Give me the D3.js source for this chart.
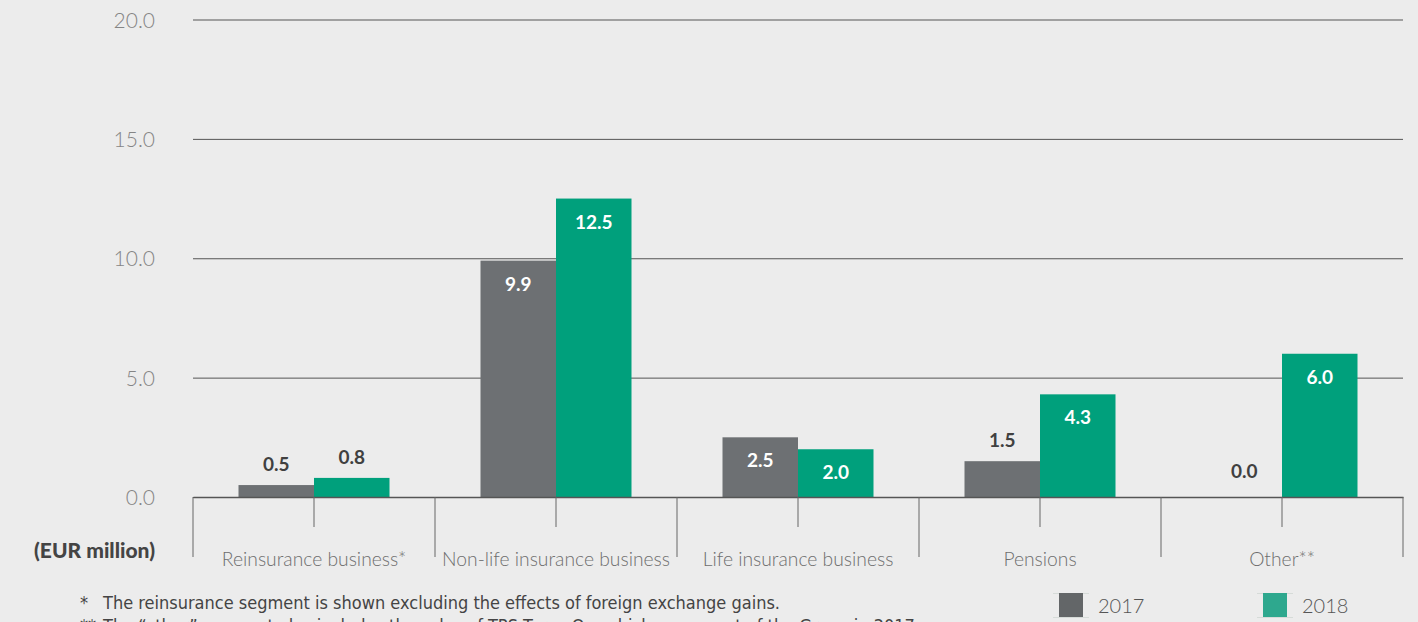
<!DOCTYPE html>
<html>
<head>
    <title>Segment results 2017-2018</title>
    <script src="https://d3js.org/d3.v7.min.js"></script>
    <style>
        body { margin: 0; background: #ececec; }
        svg { display: block; background: #ececec; }
        .ytick text { font: 300 21px Lato, sans-serif; fill: #858585; }
        .xtick text { font: 300 19.3px Lato, sans-serif; fill: #6e6e6e; }
        .val { font: 700 19px Lato, sans-serif; }
        .note { font: 18px "Liberation Sans Narrow", "DejaVu Sans Condensed", sans-serif; fill: #444; }
        .legend text { font: 300 20px Lato, sans-serif; fill: #555; }
    </style>
</head>
<body>
<svg width="1418" height="622"></svg>

<script>
const categories = ["Reinsurance business*", "Non-life insurance business", "Life insurance business", "Pensions", "Other**"];
const years = ["2017", "2018"];
const values2017 = [0.5, 9.9, 2.5, 1.5, 0.0];
const values2018 = [0.8, 12.5, 2.0, 4.3, 6.0];
const yTicks = [0, 5, 10, 15, 20];
const notes = [
    ["*", "The reinsurance segment is shown excluding the effects of foreign exchange gains."],
    ["**", "The \u201cother\u201d segment also includes the sales of TPS Turva Oy, which was a part of the Group in 2017."]
];

const svg = d3.select("svg"),
      plotLeft = 193, plotRight = 1403, plotTop = 19.5, plotBottom = 497;

const barColor = {"2017": "#6d7073", "2018": "#00a07c"},
      legendColor = {"2017": "#636668", "2018": "#2ea88e"};

const x = d3.scaleBand().domain(categories).range([plotLeft, plotRight]).padding(0);
const bw = x.bandwidth();
const x1 = d3.scaleBand().domain(years).range([bw / 2 - 75.5, bw / 2 + 75.5]).padding(0);
const y = d3.scaleLinear().domain([0, 20]).range([plotBottom, plotTop]);

// gridlines + y labels
const yAxis = svg.append("g")
    .attr("class", "ytick")
    .attr("transform", "translate(" + plotLeft + ",0)")
    .call(d3.axisLeft(y).tickValues(yTicks).tickFormat(d3.format(".1f"))
        .tickSizeInner(-(plotRight - plotLeft)).tickSizeOuter(0).tickPadding(38));
yAxis.select(".domain").remove();
yAxis.selectAll("line").attr("stroke", "#555");
yAxis.selectAll("text").attr("dy", "0.36em");

// bars
const rows = categories.map((c, i) => ({cat: c, vals: [
    {year: "2017", v: values2017[i]},
    {year: "2018", v: values2018[i]}
]}));

const groups = svg.append("g").selectAll("g")
    .data(rows).join("g")
    .attr("transform", d => "translate(" + x(d.cat) + ",0)");

groups.selectAll("rect")
    .data(d => d.vals).join("rect")
    .attr("x", d => x1(d.year))
    .attr("width", x1.bandwidth())
    .attr("y", d => y(d.v))
    .attr("height", d => plotBottom - y(d.v))
    .attr("fill", d => barColor[d.year]);

// value labels: inside when the bar is tall enough
groups.selectAll("text")
    .data(d => d.vals).join("text")
    .attr("class", "val")
    .attr("text-anchor", "middle")
    .attr("x", d => x1(d.year) + x1.bandwidth() / 2)
    .attr("y", d => d.v >= 1.8 ? y(d.v) + 30 : (d.v === 0 ? y(d.v) - 19 : y(d.v) - 14))
    .attr("fill", d => d.v >= 1.8 ? "#fff" : "#404040")
    .text(d => d3.format(".1f")(d.v));

// category axis
const xAxis = svg.append("g")
    .attr("class", "xtick")
    .attr("transform", "translate(0," + plotBottom + ")")
    .call(d3.axisBottom(x).tickSizeInner(30).tickSizeOuter(0).tickPadding(25));
xAxis.select(".domain").attr("stroke", "#555").attr("stroke-width", 1.5);
xAxis.selectAll("line").attr("stroke", "#666");

// separators between categories
const edges = categories.map(c => x(c)).concat([plotRight]);
svg.append("g").selectAll("line")
    .data(edges).join("line")
    .attr("x1", d => d).attr("x2", d => d)
    .attr("y1", plotBottom).attr("y2", 557)
    .attr("stroke", "#666");

svg.append("text")
    .attr("x", 155).attr("y", 558)
    .attr("text-anchor", "end")
    .style("font", "900 21px Lato, sans-serif")
    .attr("fill", "#444")
    .text("(EUR million)");

// footnotes
const nt = svg.append("g").selectAll("g")
    .data(notes).join("g")
    .attr("transform", (d, i) => "translate(0," + (609 + i * 23) + ")");
nt.append("text").attr("class", "note").attr("x", 80).text(d => d[0]);
nt.append("text").attr("class", "note").attr("x", 103).text(d => d[1]);

// legend
const legend = svg.append("g").attr("class", "legend")
    .selectAll("g").data(years).join("g")
    .attr("transform", (d, i) => "translate(" + (1059 + i * 204) + ",593)");
legend.append("line").attr("x1", -6).attr("x2", 30).attr("y1", 0.5).attr("y2", 0.5).attr("stroke", "#d6dbd8");
legend.append("line").attr("x1", -6).attr("x2", 30).attr("y1", 24.5).attr("y2", 24.5).attr("stroke", "#d6dbd8");
legend.append("rect").attr("width", 24).attr("height", 24).attr("fill", d => legendColor[d]);
legend.append("text").attr("x", 39).attr("y", 20).text(d => d);
</script>
</body>
</html>
